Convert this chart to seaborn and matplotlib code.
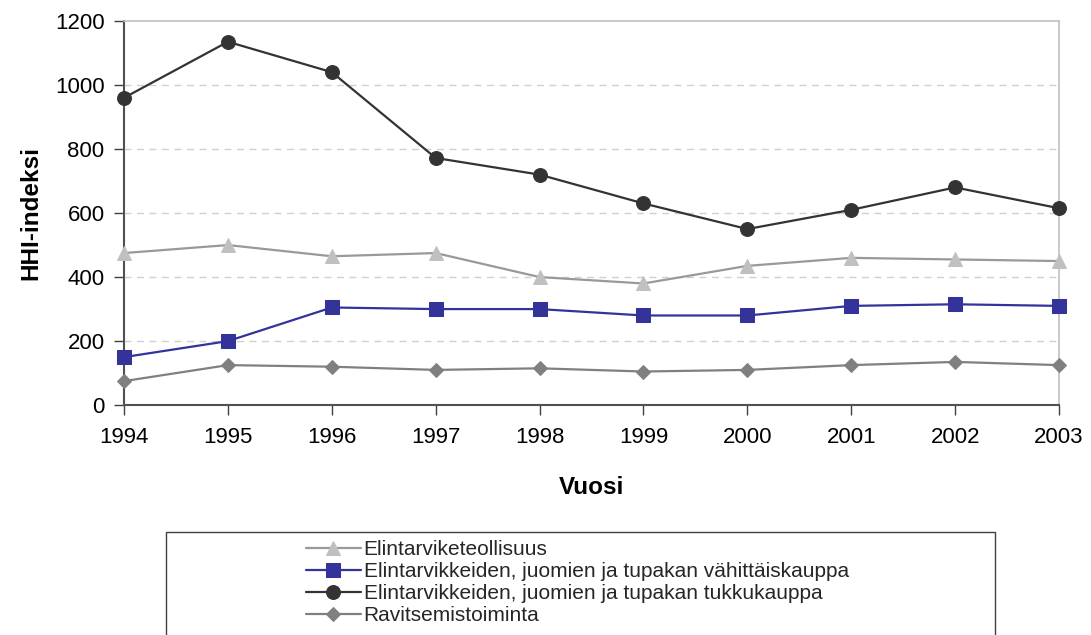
import numpy as np
import pandas as pd
import seaborn as sns
import matplotlib.pyplot as plt
from matplotlib.patches import Rectangle

# ==================== DATA ====================

years = [1994, 1995, 1996, 1997, 1998, 1999, 2000, 2001, 2002, 2003]

teollisuus = [475, 500, 465, 475, 400, 380, 435, 460, 455, 450]
vahittais = [150, 200, 305, 300, 300, 280, 280, 310, 315, 310]
tukku = [960, 1135, 1040, 772, 720, 630, 550, 610, 680, 615]
ravitsemis = [75, 125, 120, 110, 115, 105, 110, 125, 135, 125]

labels = [
    "Elintarviketeollisuus",
    "Elintarvikkeiden, juomien ja tupakan vähittäiskauppa",
    "Elintarvikkeiden, juomien ja tupakan tukkukauppa",
    "Ravitsemistoiminta",
]

# ==================== PLOT ====================

sns.set_style("white")
plt.rcParams['font.family'] = ['Liberation Sans', 'DejaVu Sans']

fig = plt.figure(figsize=(10.91, 6.35), dpi=100)
ax = fig.add_axes([0.1137, 0.362, 0.857, 0.605])

styles = [
    (teollisuus, "^", "#999999", "#C0C0C0", 10.5),
    (vahittais, "s", "#333399", "#333399", 10),
    (tukku, "o", "#333333", "#333333", 10.5),
    (ravitsemis, "D", "#808080", "#808080", 7.5),
]

for (vals, m, lc, mc, ms), lab in zip(styles, labels):
    sns.lineplot(x=years, y=vals, ax=ax, color=lc, marker=m, markersize=ms,
                 markerfacecolor=mc, markeredgecolor=mc, linewidth=1.6,
                 label=lab, legend=False, clip_on=False, zorder=3)

ax.set_xlim(1994, 2003)
ax.set_ylim(0, 1200)
ax.set_xticks(years)
ax.set_yticks(range(0, 1201, 200))
ax.tick_params(axis='both', labelsize=16, labelcolor="black", direction='out',
               length=7, width=1, color="#404040", bottom=True, left=True)
ax.tick_params(axis='x', pad=9)
ax.tick_params(axis='y', pad=7)

for y in range(200, 1001, 200):
    ax.axhline(y, color="#D0D0D0", linestyle=(0, (5, 4)), linewidth=1, zorder=1)

ax.spines['left'].set_color("#505050")
ax.spines['bottom'].set_color("#505050")
ax.spines['left'].set_linewidth(1.5)
ax.spines['bottom'].set_linewidth(1.5)
ax.spines['top'].set_color("#C0C0C0")
ax.spines['right'].set_color("#C0C0C0")
ax.spines['top'].set_linewidth(1.2)
ax.spines['right'].set_linewidth(1.2)

ax.set_xlabel("Vuosi", fontsize=17.5, fontweight="bold", labelpad=20, color="black")
ax.set_ylabel("HHI-indeksi", fontsize=17.5, fontweight="bold", labelpad=9, color="black")

# legend box
fig.patches.append(Rectangle((166 / 1091, -0.02), (995 - 166) / 1091, 1 - 532 / 635 + 0.02,
                             transform=fig.transFigure, facecolor="white",
                             edgecolor="#404040", linewidth=1))
handles, labs = ax.get_legend_handles_labels()
for h in handles:
    h.set_markersize(h.get_markersize() * 0.95)
leg = fig.legend(handles, labs, loc="upper left",
                 bbox_to_anchor=(298 / 1091, 1 - 532 / 635),
                 frameon=False, handlelength=2.6,
                 handletextpad=0.15, labelspacing=0.14, borderaxespad=0,
                 prop={'family': ['Liberation Sans', 'DejaVu Sans'], 'size': 15})

plt.savefig("out.png", dpi=100)
